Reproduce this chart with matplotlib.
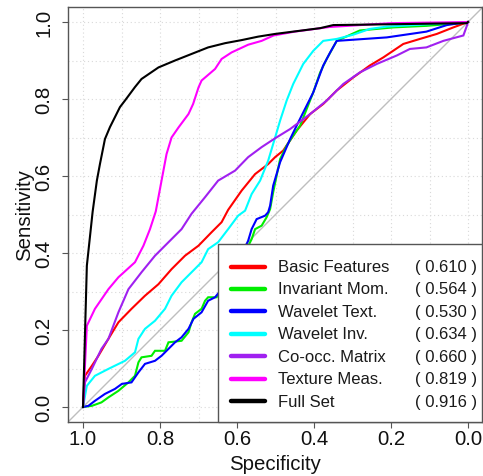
import matplotlib
matplotlib.use("Agg")
import matplotlib.pyplot as plt
from matplotlib.patches import Rectangle

plt.rcParams['font.family'] = ['Liberation Sans', 'DejaVu Sans']

labels = ["Basic Features", "Invariant Mom.", "Wavelet Text.", "Wavelet Inv.",
          "Co-occ. Matrix", "Texture Meas.", "Full Set"]
aucs = ["0.610", "0.564", "0.530", "0.634", "0.660", "0.819", "0.916"]
colors = ["#FF0000", "#00EE00", "#0000FF", "#00FFFF", "#A020F0", "#FF00FF", "#000000"]

# ROC curves (specificity, sensitivity)
basic_spec = [1.0, 0.995, 0.977, 0.960, 0.934, 0.908, 0.874, 0.839, 0.804, 0.770, 0.735, 0.700,
              0.666, 0.640, 0.623, 0.588, 0.553, 0.519, 0.501, 0.480, 0.445, 0.410, 0.376, 0.341,
              0.298, 0.255, 0.220, 0.168, 0.125, 0.081, 0.038, 0.0]
basic_sens = [0.0, 0.081, 0.107, 0.133, 0.177, 0.220, 0.255, 0.289, 0.319, 0.358, 0.393, 0.419,
              0.454, 0.480, 0.512, 0.562, 0.605, 0.631, 0.649, 0.666, 0.718, 0.761, 0.787, 0.822,
              0.856, 0.887, 0.908, 0.943, 0.956, 0.969, 0.986, 1.0]

inv_spec = [1.0, 0.977, 0.952, 0.934, 0.908, 0.882, 0.865, 0.856, 0.848, 0.822, 0.813, 0.787,
            0.778, 0.744, 0.726, 0.718, 0.709, 0.692, 0.683, 0.675, 0.653, 0.62, 0.59, 0.562,
            0.553, 0.536, 0.523, 0.514, 0.506, 0.488, 0.471, 0.454, 0.436, 0.419, 0.402, 0.384,
            0.367, 0.341, 0.281, 0.194, 0.108, 0.021, 0.0]
inv_sens = [0.0, 0.003, 0.012, 0.025, 0.042, 0.064, 0.081, 0.116, 0.129, 0.133, 0.146, 0.146,
            0.168, 0.172, 0.194, 0.220, 0.242, 0.255, 0.276, 0.285, 0.285, 0.33, 0.38, 0.436,
            0.462, 0.471, 0.493, 0.514, 0.558, 0.644, 0.679, 0.705, 0.731, 0.774, 0.817, 0.869,
            0.904, 0.951, 0.978, 0.986, 0.990, 0.997, 1.0]

wt_spec = [1.0, 0.986, 0.969, 0.943, 0.917, 0.899, 0.874, 0.856, 0.839, 0.813, 0.796, 0.778,
           0.761, 0.744, 0.726, 0.713, 0.692, 0.675, 0.657, 0.62, 0.59, 0.571, 0.562, 0.549,
           0.527, 0.519, 0.514, 0.506, 0.488, 0.462, 0.445, 0.419, 0.402, 0.376, 0.358, 0.341,
           0.211, 0.108, 0.055, 0.0]
wt_sens = [0.0, 0.003, 0.016, 0.034, 0.047, 0.060, 0.064, 0.090, 0.112, 0.120, 0.133, 0.151,
           0.168, 0.181, 0.203, 0.229, 0.246, 0.276, 0.285, 0.33, 0.39, 0.432, 0.462, 0.488,
           0.497, 0.506, 0.523, 0.575, 0.636, 0.696, 0.731, 0.783, 0.817, 0.887, 0.921, 0.951,
           0.960, 0.975, 0.992, 1.0]

wi_spec = [1.0, 0.990, 0.969, 0.934, 0.891, 0.865, 0.856, 0.839, 0.813, 0.787, 0.770, 0.744,
           0.718, 0.692, 0.675, 0.649, 0.623, 0.597, 0.579, 0.562, 0.540, 0.519, 0.501, 0.488,
           0.471, 0.454, 0.428, 0.402, 0.376, 0.341, 0.298, 0.255, 0.211, 0.0]
wi_sens = [0.0, 0.055, 0.081, 0.099, 0.120, 0.142, 0.177, 0.203, 0.224, 0.255, 0.289, 0.324,
           0.350, 0.376, 0.410, 0.428, 0.462, 0.497, 0.510, 0.553, 0.588, 0.640, 0.700, 0.744,
           0.796, 0.839, 0.891, 0.925, 0.951, 0.956, 0.967, 0.982, 0.988, 1.0]

co_spec = [1.0, 0.995, 0.977, 0.952, 0.934, 0.908, 0.882, 0.848, 0.813, 0.778, 0.744, 0.718,
           0.683, 0.649, 0.605, 0.571, 0.536, 0.501, 0.462, 0.410, 0.367, 0.324, 0.281, 0.237,
           0.185, 0.151, 0.108, 0.064, 0.012, 0.003, 0.0]
co_sens = [0.0, 0.064, 0.099, 0.151, 0.177, 0.246, 0.306, 0.350, 0.393, 0.428, 0.462, 0.502,
           0.545, 0.588, 0.614, 0.649, 0.675, 0.698, 0.722, 0.761, 0.796, 0.839, 0.869, 0.891,
           0.913, 0.930, 0.934, 0.951, 0.965, 0.99, 1.0]

tex_spec = [1.0, 0.990, 0.969, 0.934, 0.908, 0.865, 0.843, 0.826, 0.811, 0.796, 0.783, 0.770,
            0.752, 0.726, 0.714, 0.700, 0.692, 0.657, 0.640, 0.614, 0.571, 0.536, 0.505, 0.45,
            0.36, 0.2, 0.0]
tex_sens = [0.0, 0.211, 0.255, 0.306, 0.337, 0.376, 0.419, 0.462, 0.508, 0.588, 0.657, 0.700,
            0.726, 0.761, 0.787, 0.830, 0.848, 0.878, 0.904, 0.921, 0.941, 0.951, 0.965, 0.975,
            0.987, 0.997, 1.0]

full_spec = [1.0, 0.990, 0.975, 0.964, 0.956, 0.943, 0.930, 0.917, 0.904, 0.891, 0.865, 0.848,
             0.804, 0.761, 0.718, 0.675, 0.631, 0.588, 0.545, 0.501, 0.384, 0.350, 0.003, 0.0]
full_sens = [0.0, 0.367, 0.507, 0.588, 0.631, 0.696, 0.727, 0.753, 0.779, 0.796, 0.831, 0.852,
             0.882, 0.900, 0.917, 0.934, 0.945, 0.953, 0.962, 0.969, 0.984, 0.992, 0.997, 1.0]

curves = [(basic_spec, basic_sens), (inv_spec, inv_sens), (wt_spec, wt_sens),
          (wi_spec, wi_sens), (co_spec, co_sens), (tex_spec, tex_sens), (full_spec, full_sens)]

W, H = 483, 477
fig = plt.figure(figsize=(W / 100, H / 100), dpi=100)
ax_l, ax_r, ax_t, ax_b = 67.6, 482.0, 7.6, 423.4
ax = fig.add_axes([ax_l / W, (H - ax_b) / H, (ax_r - ax_l) / W, (ax_b - ax_t) / H])
ax.set_xlim(1.04, 1.0 - (ax_r - ax_l) / 385 + 0.04)
ax.set_ylim(-0.04, 1.04)

grid_vals = [i / 10 for i in range(11)]
for g in grid_vals:
    ax.axvline(g, color="#D9D9D9", lw=0.8, ls=(0, (1, 2.5)), zorder=0)
    ax.axhline(g, color="#D9D9D9", lw=0.8, ls=(0, (1, 2.5)), zorder=0)

ax.plot([1.2, -0.2], [-0.2, 1.2], color="#BEBEBE", lw=1.0, zorder=1)

for (sx, sy), c in zip(curves, colors):
    ax.plot(sx, sy, color=c, lw=1.5, zorder=2, solid_joinstyle="miter")

for s in ax.spines.values():
    s.set_color("#555555")
    s.set_linewidth(1.0)

ticks = [1.0, 0.8, 0.6, 0.4, 0.2, 0.0]
ax.set_xticks(ticks)
ax.set_xticklabels([f"{t:.1f}" for t in ticks])
ax.set_yticks(ticks)
ax.set_yticklabels([f"{t:.1f}" for t in ticks], rotation=90, va="center")
ax.tick_params(axis="both", labelsize=14.7, length=4.5, width=0.8, color="#555555",
               labelcolor="#111111")
ax.tick_params(axis="x", pad=0.5)
ax.tick_params(axis="y", pad=5.5)
ax.set_xlabel("Specificity", fontsize=14.7, labelpad=4.0, color="#111111")
ax.set_ylabel("Sensitivity", fontsize=14.7, labelpad=0.5, color="#111111")


def fx(px):
    return (px - ax_l) / (ax_r - ax_l)


def fy(py):
    return (ax_b - py) / (ax_b - ax_t)


# Legend box
ax.add_patch(Rectangle((fx(218), 0), 1 - fx(218), fy(245), transform=ax.transAxes,
                       facecolor="white", edgecolor="#555555", lw=1.0, zorder=5, clip_on=False))
row0, dy = 267.5, 22.45
for i, (lab, auc, c) in enumerate(zip(labels, aucs, colors)):
    yy = fy(row0 + i * dy)
    ax.plot([fx(231), fx(265)], [yy, yy], transform=ax.transAxes, color=c, lw=3.2,
            solid_capstyle="round", zorder=6, clip_on=False)
    ax.text(fx(278), yy, lab, transform=ax.transAxes, fontsize=12, va="center", ha="left",
            color="#1a1a1a", zorder=6)
    ax.text(fx(415), yy, f"( {auc} )", transform=ax.transAxes, fontsize=12, va="center",
            ha="left", color="#1a1a1a", zorder=6)

fig.savefig("out.png", dpi=100)
